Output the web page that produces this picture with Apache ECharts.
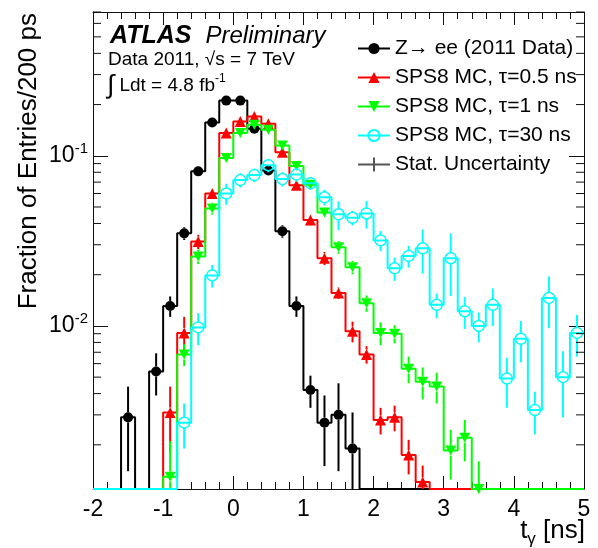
<!DOCTYPE html>
<html>
<head>
<meta charset="utf-8">
<script src="https://cdn.jsdelivr.net/npm/echarts@6/dist/echarts.min.js"></script>
<style>
html, body { margin: 0; padding: 0; background: #fff; }
#main { width: 598px; height: 548px; }
</style>
</head>
<body>
<div id="main"></div>
<script>
// 数据：200 ps 一个 bin
const binCenters = [-1.9, -1.7, -1.5, -1.3, -1.1, -0.9, -0.7, -0.5, -0.3, -0.1,
    0.1, 0.3, 0.5, 0.7, 0.9, 1.1, 1.3, 1.5, 1.7, 1.9,
    2.1, 2.3, 2.5, 2.7, 2.9, 3.1, 3.3, 3.5, 3.7, 3.9,
    4.1, 4.3, 4.5, 4.7, 4.9];
const binWidth = 0.2;

const zeeData = [0, 0, 0.0029, 0, 0.0054, 0.0131, 0.035, 0.081, 0.157, 0.211,
    0.211, 0.144, 0.082, 0.036, 0.0131, 0.0042, 0.0027, 0.003, 0.0019, 0,
    0, 0, 0, 0, 0, 0, 0, 0, 0, 0, 0, 0, 0, 0, 0];
const zeeErr = [0, 0, 0.0015, 0, 0.0015, 0.0018, 0.003, 0.005, 0.007, 0.008,
    0.008, 0.0065, 0.005, 0.003, 0.0018, 0.0009, 0.0012, 0.0016, 0.0012, 0,
    0, 0, 0, 0, 0, 0, 0, 0, 0, 0, 0, 0, 0, 0, 0];

const tau05Data = [0, 0, 0, 0, 0, 0.0031, 0.0091, 0.0313, 0.060, 0.136,
    0.159, 0.170, 0.154, 0.105, 0.067, 0.042, 0.025, 0.0156, 0.0093, 0.0068,
    0.0028, 0.0029, 0.00174, 0.00121, 0, 0, 0, 0, 0, 0, 0, 0, 0, 0, 0];
const tau05Err = [0, 0, 0, 0, 0, 0.0013, 0.0022, 0.003, 0.004, 0.006,
    0.006, 0.006, 0.006, 0.005, 0.004, 0.003, 0.0022, 0.0012, 0.0013, 0.0008,
    0.0005, 0.0005, 0.0004, 0.0003, 0, 0, 0, 0, 0, 0, 0, 0, 0, 0, 0];

const tau1Data = [0, 0, 0, 0, 0, 0.0013, 0.0068, 0.0256, 0.049, 0.097,
    0.136, 0.152, 0.142, 0.115, 0.087, 0.0675, 0.0464, 0.029, 0.0221, 0.0136,
    0.0091, 0.009, 0.0056, 0.0047, 0.0044, 0.00185, 0.0022, 0.0009, 0, 0,
    0, 0, 0, 0, 0];
const tau1Err = [0, 0, 0, 0, 0, 0.0008, 0.001, 0.0025, 0.004, 0.005,
    0.006, 0.006, 0.006, 0.005, 0.0045, 0.004, 0.003, 0.0025, 0.002, 0.0015,
    0.0014, 0.0011, 0.001, 0.001, 0.0009, 0.0006, 0.0006, 0.0007, 0, 0,
    0, 0, 0, 0, 0];

const tau30Data = [0, 0, 0, 0, 0, 0, 0.0027, 0.0098, 0.0198, 0.060,
    0.072, 0.077, 0.088, 0.073, 0.0775, 0.069, 0.057, 0.0453, 0.0432, 0.0458,
    0.0318, 0.0218, 0.0258, 0.0286, 0.0133, 0.025, 0.0122, 0.010, 0.0133, 0.0049,
    0.0084, 0.0032, 0.0146, 0.005, 0.0091];
const tau30Err = [0, 0, 0, 0, 0, 0, 0.0008, 0.0021, 0.003, 0.0085,
    0.007, 0.007, 0.008, 0.007, 0.007, 0.006, 0.006, 0.0087, 0.0043, 0.0085,
    0.0043, 0.0034, 0.0038, 0.0083, 0.0022, 0.010, 0.0026, 0.002, 0.0033, 0.0016,
    0.0023, 0.0009, 0.0049, 0.0021, 0.0025];

const seriesNames = ['Z\u2192 ee (2011 Data)', 'SPS8 MC, \u03c4=0.5 ns', 'SPS8 MC, \u03c4=1 ns', 'SPS8 MC, \u03c4=30 ns', 'Stat. Uncertainty'];

// 坐标轴
const yMin = 0.0011, yMax = 0.7;
const yMinorTicks = [0.002, 0.003, 0.004, 0.005, 0.006, 0.007, 0.008, 0.009,
    0.02, 0.03, 0.04, 0.05, 0.06, 0.07, 0.08, 0.09,
    0.2, 0.3, 0.4, 0.5, 0.6, 0.7];

const FONT = "'Liberation Sans', Arial, Helvetica, sans-serif";
const chart = echarts.init(document.getElementById('main'));

// 直方图台阶线 + bin 中心的标记
function stepData(vals) {
    const out = [];
    for (let i = 0; i < binCenters.length; i++) {
        const c = binCenters[i];
        const v = vals[i] > yMin ? vals[i] : yMin;
        out.push({value: [+(c - binWidth / 2).toFixed(2), v], symbol: 'none'});
        out.push(vals[i] > 0 ? {value: [c, v]} : {value: [c, v], symbol: 'none'});
        out.push({value: [+(c + binWidth / 2).toFixed(2), v], symbol: 'none'});
    }
    return out;
}

// 误差棒（标记处留空）
function errorBars(vals, errs, color, z) {
    const gap = 5;
    return {
        type: 'custom',
        z: z,
        silent: true,
        data: binCenters.map((c, i) => [c, vals[i], errs[i]]).filter(d => d[1] > 0),
        encode: {x: 0, y: 1},
        renderItem: function (params, api) {
            const c = api.value(0), v = api.value(1), e = api.value(2);
            const top = api.coord([c, Math.max(v + e, yMin)]);
            const mid = api.coord([c, Math.max(v, yMin)]);
            const bot = api.coord([c, Math.max(v - e, yMin)]);
            const children = [];
            const st = {stroke: color, lineWidth: 2};
            if (mid[1] - top[1] > gap) {
                children.push({type: 'line', shape: {x1: top[0], y1: top[1], x2: mid[0], y2: mid[1] - gap}, style: st});
            }
            if (bot[1] - mid[1] > gap) {
                children.push({type: 'line', shape: {x1: mid[0], y1: mid[1] + gap, x2: bot[0], y2: bot[1]}, style: st});
            }
            return {type: 'group', children: children};
        }
    };
}

const tickColor = '#111';

const xAxisOption = {
    type: 'value',
    min: -2, max: 5, interval: 1,
    axisLine: {show: true, onZero: false, lineStyle: {color: tickColor, width: 1}},
    axisTick: {show: true, inside: true, length: 13, lineStyle: {color: tickColor}},
    minorTick: {show: true, splitNumber: 5, length: 7, lineStyle: {color: tickColor}},
    splitLine: {show: false},
    minorSplitLine: {show: false}
};

const yAxisOption = {
    type: 'log',
    logBase: 10,
    min: yMin, max: yMax,
    axisLine: {show: true, onZero: false, lineStyle: {color: tickColor, width: 1}},
    axisTick: {show: true, inside: true, length: 15, lineStyle: {color: tickColor}},
    splitLine: {show: false}
};

const option = {
    animation: false,
    backgroundColor: '#fff',
    grid: {left: 93, top: 12, width: 491, height: 477, containLabel: false, outerBoundsMode: 'none'},
    xAxis: [
        Object.assign({}, xAxisOption, {
            position: 'bottom',
            axisLabel: {show: true, margin: 9, fontSize: 23, fontFamily: FONT, color: '#000'}
        }),
        Object.assign({}, xAxisOption, {position: 'top', axisLabel: {show: false}})
    ],
    yAxis: [
        Object.assign({}, yAxisOption, {
            position: 'left',
            axisLabel: {
                show: true, margin: 5, fontSize: 23, fontFamily: FONT, color: '#000',
                showMinLabel: false, showMaxLabel: false,
                formatter: function (v) {
                    return '10{sup|' + Math.round(Math.log10(v)) + '}';
                },
                rich: {sup: {fontSize: 15, fontFamily: FONT, color: '#000', verticalAlign: 'top', padding: [0, 0, 14, 0]}}
            }
        }),
        Object.assign({}, yAxisOption, {position: 'right', axisLabel: {show: false}})
    ],
    legend: {
        orient: 'vertical',
        left: 352, top: 33,
        itemWidth: 32, itemHeight: 14, itemGap: 8,
        selectedMode: false,
        textStyle: {fontFamily: FONT, fontSize: 21, lineHeight: 21, color: '#000'},
        data: [seriesNames[0], seriesNames[1], seriesNames[2], seriesNames[3],
            {name: seriesNames[4], icon: 'path://M0,6H32V8H0Z M15,0H17V14H15Z'}]
    },
    graphic: [
        {
            type: 'text', x: 110, y: 36,
            style: {
                text: '{a|ATLAS}{b|Preliminary}',
                verticalAlign: 'middle', fill: '#000',
                rich: {
                    a: {fontFamily: FONT, fontSize: 25, fontWeight: 'bold', fontStyle: 'italic', fill: '#000'},
                    b: {fontFamily: FONT, fontSize: 24, fontStyle: 'italic', fill: '#000', padding: [0, 0, 0, 14]}
                }
            }
        },
        {
            type: 'text', x: 108, y: 60,
            style: {text: 'Data 2011, \u221as = 7 TeV', fontFamily: FONT, fontSize: 19, verticalAlign: 'middle', fill: '#000'}
        },
        {
            type: 'text', x: 107, y: 86,
            style: {
                text: '{i|\u222b} Ldt = 4.8 fb{sup|-1}',
                fontFamily: FONT, fontSize: 19, verticalAlign: 'middle', fill: '#000',
                rich: {
                    i: {fontFamily: FONT, fontSize: 26, fill: '#000'},
                    sup: {fontFamily: FONT, fontSize: 12, fill: '#000', verticalAlign: 'top', padding: [0, 0, 14, 0]}
                }
            }
        },
        {
            type: 'text', x: 29, y: 13, rotation: Math.PI / 2,
            style: {text: 'Fraction of Entries/200 ps', fontFamily: FONT, fontSize: 26, align: 'right', verticalAlign: 'middle', fill: '#000'}
        },
        {
            type: 'text', x: 585, y: 531,
            style: {
                text: 't{sub|\u03b3} [ns]',
                fontFamily: FONT, fontSize: 26, align: 'right', verticalAlign: 'middle', fill: '#000',
                rich: {sub: {fontFamily: FONT, fontSize: 17, fill: '#000', verticalAlign: 'top', padding: [17, 0, 0, 0]}}
            }
        }
    ],
    series: [
        errorBars(zeeData, zeeErr, '#000', 2),
        {
            name: seriesNames[0], type: 'line', z: 2,
            data: stepData(zeeData),
            symbol: 'circle', symbolSize: 10, showAllSymbol: true,
            lineStyle: {color: '#000', width: 2},
            itemStyle: {color: '#000'}
        },
        errorBars(tau05Data, tau05Err, '#ff0000', 3),
        {
            name: seriesNames[1], type: 'line', z: 3,
            data: stepData(tau05Data),
            symbol: 'triangle', symbolSize: 11, showAllSymbol: true,
            lineStyle: {color: '#ff0000', width: 2},
            itemStyle: {color: '#ff0000'}
        },
        errorBars(tau1Data, tau1Err, '#00ff00', 4),
        {
            name: seriesNames[2], type: 'line', z: 4,
            data: stepData(tau1Data),
            symbol: 'path://M0,0L2,0L1,1.732Z', symbolSize: [11, 10], showAllSymbol: true,
            lineStyle: {color: '#00ff00', width: 2},
            itemStyle: {color: '#00ff00'}
        },
        errorBars(tau30Data, tau30Err, '#00ffff', 5),
        {
            name: seriesNames[3], type: 'line', z: 5,
            data: stepData(tau30Data),
            symbol: 'circle', symbolSize: 11, showAllSymbol: true,
            lineStyle: {color: '#00ffff', width: 2},
            itemStyle: {color: 'rgba(0,0,0,0)', borderColor: '#00ffff', borderWidth: 1.5}
        },
        {
            name: seriesNames[4], type: 'line', data: [],
            symbol: 'none',
            lineStyle: {color: '#555'}, itemStyle: {color: '#555'}
        },
        {   // 对数轴上的小刻度
            type: 'custom', z: 6, silent: true,
            data: yMinorTicks.map(v => [-2, v]),
            encode: {x: 0, y: 1},
            renderItem: function (params, api) {
                const v = api.value(1);
                const l = api.coord([-2, v]), r = api.coord([5, v]);
                const st = {stroke: tickColor, lineWidth: 1};
                return {
                    type: 'group',
                    children: [
                        {type: 'line', shape: {x1: l[0], y1: l[1], x2: l[0] + 8, y2: l[1]}, style: st},
                        {type: 'line', shape: {x1: r[0], y1: r[1], x2: r[0] - 8, y2: r[1]}, style: st}
                    ]
                };
            }
        }
    ]
};

chart.setOption(option);
</script>
</body>
</html>
